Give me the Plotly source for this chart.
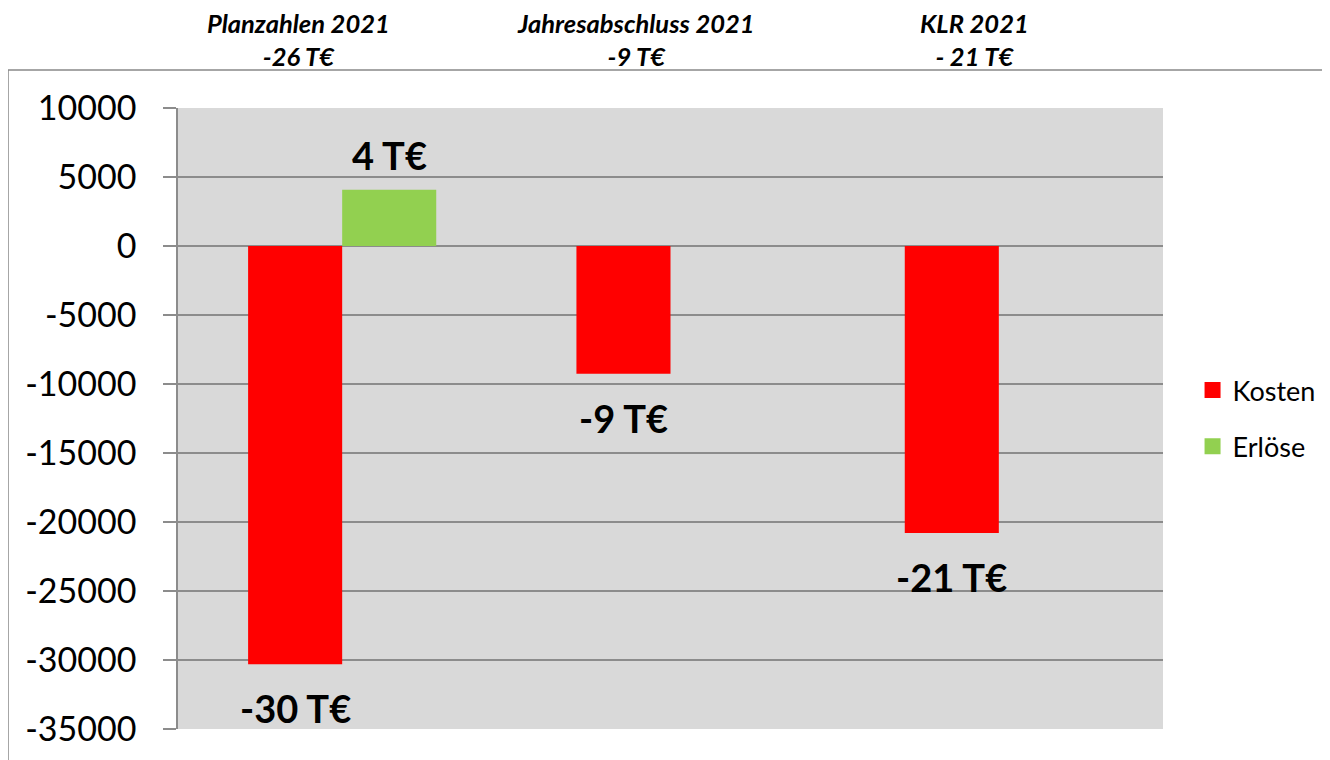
import plotly.graph_objects as go

# Data
categories = ["Planzahlen 2021", "Jahresabschluss 2021", "KLR 2021"]
header_totals = ["-26 T€", "-9 T€", "- 21 T€"]
kosten = [-30300, -9260, -20800]
erloese = [4080, None, None]
kosten_labels = ["-30 T€", "-9 T€", "-21 T€"]
erloese_labels = ["4 T€", None, None]
y_ticks = [10000, 5000, 0, -5000, -10000, -15000, -20000, -25000, -30000, -35000]

FONT = "Lato"
RED = "#FF0000"
GREEN = "#92D050"

fig = go.Figure()
fig.add_trace(go.Bar(
    x=categories, y=kosten, name="Kosten",
    marker=dict(color=RED, line=dict(width=0)),
    showlegend=False,
))
fig.add_trace(go.Bar(
    x=categories, y=erloese, name="Erlöse",
    marker=dict(color=GREEN, line=dict(width=0)),
    showlegend=False,
))
# legend entries with larger square swatches
fig.add_trace(go.Scatter(
    x=[None], y=[None], mode="markers", name="Kosten",
    marker=dict(symbol="square", size=16, color=RED), legendgroup="k",
))
fig.add_trace(go.Scatter(
    x=[None], y=[None], mode="markers", name="Erlöse",
    marker=dict(symbol="square", size=16, color=GREEN), legendgroup="e",
))

annotations = []
# value labels next to bar ends
for cat, val, lab in zip(categories, kosten, kosten_labels):
    if lab:
        annotations.append(dict(
            x=cat, y=val, xref="x", yref="y", text="<b>" + lab + "</b>",
            showarrow=False, xshift=-47, yshift=-44, yanchor="middle",
            font=dict(family=FONT, size=38, color="black"),
        ))
for cat, val, lab in zip(categories, erloese, erloese_labels):
    if lab:
        annotations.append(dict(
            x=cat, y=val, xref="x", yref="y", text="<b>" + lab + "</b>",
            showarrow=False, xshift=47, yshift=35, yanchor="middle",
            font=dict(family=FONT, size=38, color="black"),
        ))

# headers above the chart frame
header_shift = [-44, -35, -24]
for cat, tot, sh in zip(categories, header_totals, header_shift):
    annotations.append(dict(
        x=cat, y=(721 - 31.5) / 621, xref="x", yref="paper",
        text="<b><i>" + cat + "<br>" + tot + "</i></b>",
        showarrow=False, xshift=sh, yanchor="middle",
        font=dict(family=FONT, size=25.5, color="black"),
    ))

# page body has an 8px margin, so the figure sits 8px right/down
fig.update_layout(
    width=1330, height=760,
    margin=dict(l=170, r=175, t=100, b=39),
    paper_bgcolor="white",
    plot_bgcolor="#D9D9D9",
    barmode="group",
    bargap=0.427,
    bargroupgap=0,
    font=dict(family=FONT, color="black"),
    annotations=annotations,
    legend=dict(
        x=1.03, y=0.5, xanchor="left", yanchor="middle",
        font=dict(family=FONT, size=27, color="black"),
        traceorder="grouped", tracegroupgap=18,
        bgcolor="rgba(0,0,0,0)",
    ),
    shapes=[
        # outer chart frame (top and left edges visible)
        dict(type="line", xref="paper", yref="paper",
             x0=(8 - 178) / 985, x1=(1340 - 178) / 985,
             y0=(729 - 70) / 621, y1=(729 - 70) / 621,
             line=dict(color="#888888", width=1.5)),
        dict(type="line", xref="paper", yref="paper",
             x0=(8 - 178) / 985, x1=(8 - 178) / 985,
             y0=(729 - 70) / 621, y1=(729 - 780) / 621,
             line=dict(color="#888888", width=1.5)),
    ],
)

fig.update_xaxes(
    showticklabels=False, showgrid=False, zeroline=False,
    showline=False, ticks="",
)
fig.update_yaxes(
    range=[-35000, 10000],
    tickvals=y_ticks,
    ticktext=[str(v) for v in y_ticks],
    tickfont=dict(family=FONT, size=34, color="black"),
    showgrid=True, gridcolor="#8C8C8C", gridwidth=1.5,
    zeroline=False,
    showline=True, linecolor="#8C8C8C", linewidth=1.5,
    ticks="outside", ticklen=13, tickcolor="#8C8C8C", tickwidth=1.5,
    ticklabelstandoff=20,
)

fig.write_html("out.html")
